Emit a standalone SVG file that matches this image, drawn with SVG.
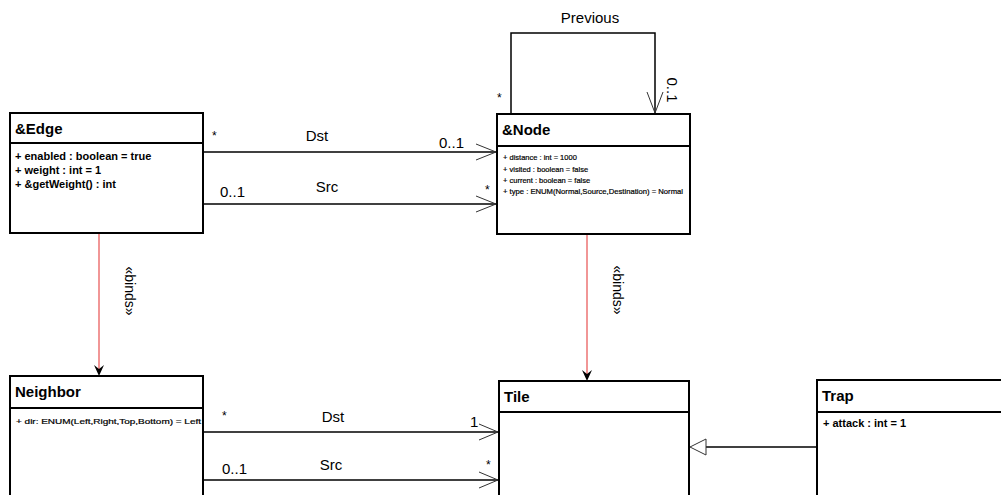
<svg xmlns="http://www.w3.org/2000/svg" width="1001" height="495" viewBox="0 0 1001 495">
<style>
.box{fill:#fff;stroke:#000;stroke-width:2}
.div{stroke:#000;stroke-width:2}
.title{font-family:"Liberation Sans",Arial,sans-serif;font-size:15px;font-weight:bold;fill:#000}
.attr{font-family:"Liberation Sans",Arial,sans-serif;font-size:11px;font-weight:bold;fill:#000}
.sm{font-family:"Liberation Sans",Arial,sans-serif;font-size:7.5px;fill:#000;stroke:#000;stroke-width:0.2}
.lbl{font-family:"Liberation Sans",Arial,sans-serif;font-size:15px;fill:#000}
.mult{font-family:"Liberation Sans",Arial,sans-serif;font-size:12px;fill:#000}
.line{fill:none;stroke:#000;stroke-width:1.5}
.head{fill:none;stroke:#333;stroke-width:1}
.bind{stroke:#e85050;stroke-width:1.2;fill:none}
.binds{font-family:"Liberation Sans",Arial,sans-serif;font-size:14px;fill:#000}
</style>
<g id="connectors">
<!-- Previous self loop -->
<polyline class="line" points="511,113 511,33 655,33 655,113"/>
<path class="head" d="M647,92 L655,113 L663,92"/>
<text class="lbl" x="590" y="23" text-anchor="middle">Previous</text>
<text class="mult" x="497" y="102">*</text>
<text class="lbl" transform="translate(667,90) rotate(90)" text-anchor="middle">0..1</text>
<!-- Edge-Node Dst -->
<line class="line" x1="203" y1="152" x2="496" y2="152"/>
<path class="head" d="M476,144 L496,152 L476,160"/>
<text class="lbl" x="317" y="141" text-anchor="middle">Dst</text>
<text class="mult" x="212" y="140">*</text>
<text class="lbl" x="439" y="148">0..1</text>
<!-- Edge-Node Src -->
<line class="line" x1="203" y1="204" x2="496" y2="204"/>
<path class="head" d="M476,196 L496,204 L476,212"/>
<text class="lbl" x="327" y="192" text-anchor="middle">Src</text>
<text class="lbl" x="220" y="197">0..1</text>
<text class="mult" x="485" y="194">*</text>
<!-- binds -->
<line class="bind" x1="99" y1="233" x2="99" y2="372"/>
<path d="M94,365 L99,376 L104,365 L99,369 Z" fill="#000"/>
<text class="binds" transform="translate(125,291) rotate(90)" text-anchor="middle">«binds»</text>
<line class="bind" x1="587" y1="234" x2="587" y2="377"/>
<path d="M582,370 L587,381 L592,370 L587,374 Z" fill="#000"/>
<text class="binds" transform="translate(613,290) rotate(90)" text-anchor="middle">«binds»</text>
<!-- Neighbor-Tile Dst -->
<line class="line" x1="203" y1="432" x2="498" y2="432"/>
<path class="head" d="M479,424 L498,432 L479,440"/>
<text class="lbl" x="333" y="422" text-anchor="middle">Dst</text>
<text class="mult" x="222" y="420">*</text>
<text class="lbl" x="470" y="427">1</text>
<!-- Neighbor-Tile Src -->
<line class="line" x1="203" y1="480" x2="498" y2="480"/>
<path class="head" d="M479,472 L498,480 L479,488"/>
<text class="lbl" x="331" y="470" text-anchor="middle">Src</text>
<text class="lbl" x="222" y="474">0..1</text>
<text class="mult" x="486" y="469">*</text>
<!-- Trap generalization -->
<line class="line" x1="706" y1="447" x2="817" y2="447"/>
<path d="M690,447 L706,439 L706,455 Z" fill="#fff" stroke="#333" stroke-width="1"/>
</g>
<g id="Edge">
<rect class="box" x="10" y="113" width="193" height="120"/>
<line class="div" x1="10" y1="143" x2="203" y2="143"/>
<text class="title" x="15" y="134">&amp;Edge</text>
<text class="attr" x="15" y="160">+ enabled : boolean = true</text>
<text class="attr" x="15" y="174">+ weight : int = 1</text>
<text class="attr" x="15" y="188">+ &amp;getWeight() : int</text>
</g>
<g id="Node">
<rect class="box" x="497" y="114" width="193" height="120"/>
<line class="div" x1="497" y1="146" x2="690" y2="146"/>
<text class="title" x="502" y="135">&amp;Node</text>
<text class="sm" x="503" y="160">+ distance : int = 1000</text>
<text class="sm" x="503" y="172">+ visited : boolean = false</text>
<text class="sm" x="503" y="183">+ current : boolean = false</text>
<text class="sm" x="503" y="194" textLength="180" lengthAdjust="spacingAndGlyphs">+ type : ENUM(Normal,Source,Destination) = Normal</text>
</g>
<g id="Neighbor">
<rect class="box" x="10" y="376" width="193" height="130"/>
<line class="div" x1="10" y1="408" x2="203" y2="408"/>
<text class="title" x="15" y="397">Neighbor</text>
<text class="sm" x="16" y="424" textLength="185" lengthAdjust="spacingAndGlyphs">+ dir: ENUM(Left,Right,Top,Bottom) = Left</text>
</g>
<g id="Tile">
<rect class="box" x="499" y="381" width="190" height="125"/>
<line class="div" x1="499" y1="412" x2="689" y2="412"/>
<text class="title" x="504" y="402">Tile</text>
</g>
<g id="Trap">
<rect class="box" x="817" y="380" width="200" height="126"/>
<line class="div" x1="817" y1="412" x2="1001" y2="412"/>
<text class="title" x="822" y="401">Trap</text>
<text class="attr" x="823" y="427">+ attack : int = 1</text>
</g>
</svg>
